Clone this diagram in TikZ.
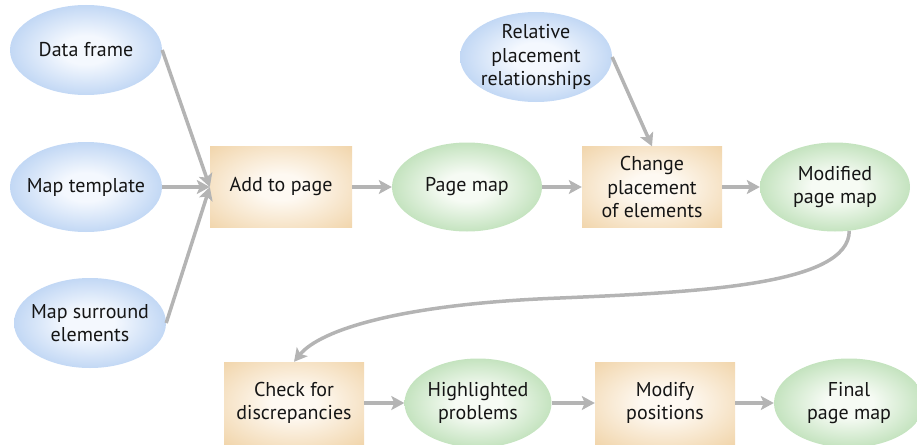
\documentclass[tikz,border=0pt]{standalone}
\usepackage{fontspec}
\setmainfont{PT Sans}
\usetikzlibrary{arrows.meta,shapes.geometric}

\definecolor{blueedge}{HTML}{A5C5EF}
\definecolor{bluecore}{HTML}{F4F8FE}
\definecolor{greenedge}{HTML}{A7D5A0}
\definecolor{greencore}{HTML}{F6FBF4}
\definecolor{orangeedge}{HTML}{F0D2A5}
\definecolor{orangecore}{HTML}{FEF9F2}
\definecolor{flowgray}{HTML}{B4B4B4}
\definecolor{inktext}{HTML}{151515}

% soft glow fills: pale core, saturated rim
\pgfdeclareradialshading{blueglow}{\pgfpoint{0bp}{0bp}}{%
  color(0bp)=(bluecore); color(8bp)=(bluecore); color(35bp)=(blueedge); color(50bp)=(blueedge)}
\pgfdeclareradialshading{greenglow}{\pgfpoint{0bp}{0bp}}{%
  color(0bp)=(greencore); color(8bp)=(greencore); color(35bp)=(greenedge); color(50bp)=(greenedge)}
\pgfdeclareradialshading{orangeglow}{\pgfpoint{0bp}{0bp}}{%
  color(0bp)=(orangecore); color(8bp)=(orangecore); color(38bp)=(orangeedge); color(50bp)=(orangeedge)}

\tikzset{
  label text/.style={font=\fontsize{20}{23.5}\selectfont, text=inktext, align=center},
  inputnode/.style={label text, ellipse, minimum width=152pt, minimum height=90pt,
    inner xsep=-22pt, inner ysep=-6pt, shading=blueglow},
  datanode/.style={label text, ellipse, minimum width=150pt, minimum height=89pt,
    inner xsep=-22pt, inner ysep=-6pt, shading=greenglow},
  procnode/.style={label text, rectangle, minimum width=140pt, minimum height=81pt,
    inner sep=0pt, shading=orangeglow},
  flow/.style={draw=flowgray, line width=3.5pt,
    -{Stealth[length=13pt, width=14pt, inset=3pt, fill=flowgray]}},
}

\begin{document}
\begin{tikzpicture}[x=1pt, y=-1pt]
\clip (0,0) rectangle (917,444);

% inputs
\node[inputnode] (df)  at (86,50)   {Data frame};
\node[inputnode] (mt)  at (86,187)  {Map template};
\node[inputnode] (ms)  at (90,323)  {Map surround\\elements};
\node[inputnode] (rel) at (536,57)  {Relative\\placement\\relationships};

% upper row
\node[procnode, minimum width=142pt] (add) at (281,187) {Add to page};
\node[datanode]  (pm)  at (467,187) {Page map};
\node[procnode]  (chg) at (652,187) {Change\\placement\\of elements};
\node[datanode]  (mod) at (835,187) {Modified\\page map};

% lower row
\node[procnode, minimum height=82pt] (chk) at (294,403) {Check for\\discrepancies};
\node[datanode, minimum width=147pt] (hp) at (478,403) {Highlighted\\problems};
\node[procnode, minimum height=82pt] (mp) at (665,403) {Modify\\positions};
\node[datanode]  (fin) at (849,403) {Final\\page map};

% connectors
\draw[flow] (df.east) -- (add.west);
\draw[flow] (mt.east) -- (add.west);
\draw[flow] (ms.east) -- (add.west);
\draw[flow] (add.east) -- (pm.west);
\draw[flow] (pm.east) -- (chg.west);
\draw[flow] (rel.east) -- (chg.north);
\draw[flow] (chg.east) -- (mod.west);

\coordinate (bend) at (560,298);
\draw[flow] (mod.-72) .. controls (849,285) and (700,292) .. (bend)
                      .. controls (400,304) and (320,330) .. (chk.north);

\draw[flow] (chk.east) -- (hp.west);
\draw[flow] (hp.east) -- (mp.west);
\draw[flow] (mp.east) -- (fin.west);
\end{tikzpicture}
\end{document}
